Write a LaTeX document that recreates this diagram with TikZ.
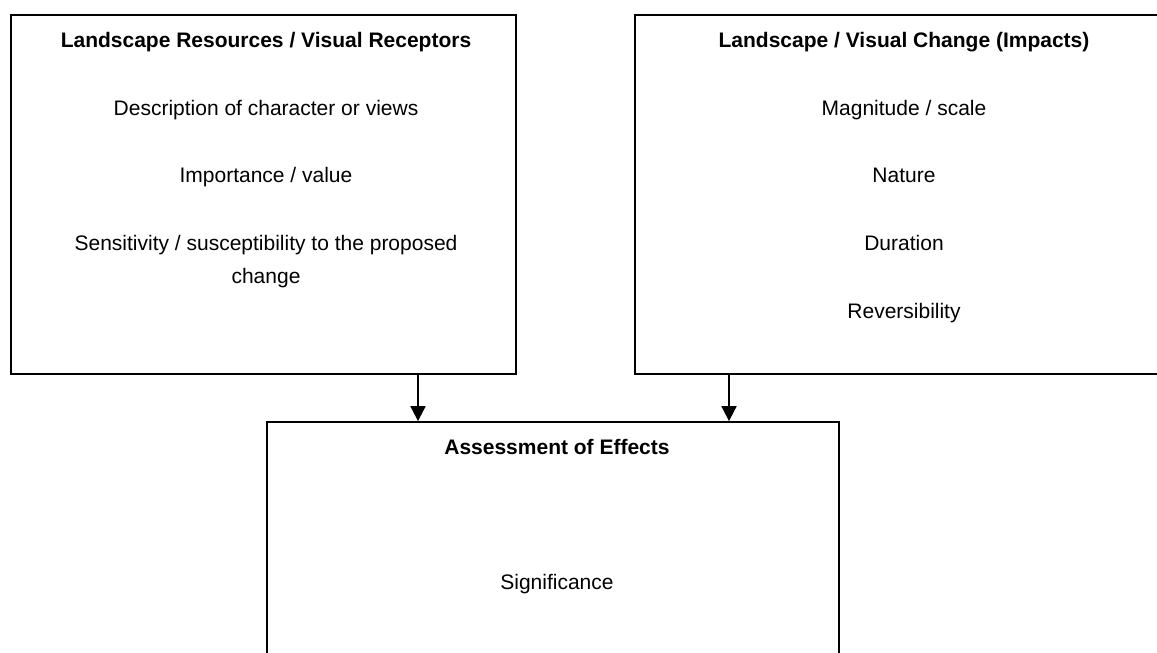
\documentclass[tikz,border=0pt]{standalone}
\usepackage{fontspec}
\setmainfont{Liberation Sans}
\usetikzlibrary{arrows.meta,positioning,calc}

\tikzset{
  box/.style={draw, line width=1.8pt, rectangle, inner sep=0pt},
  item/.style={font=\fontsize{21}{33.8}\selectfont, align=center, inner sep=0pt, anchor=base},
  head/.style={item, font=\fontsize{21}{33.8}\selectfont\bfseries},
  flow/.style={line width=1.8pt, -{Triangle[length=15pt,width=15pt]}}
}

\begin{document}
\begin{tikzpicture}[x=1pt,y=-1pt]
        \useasboundingbox (0,0) rectangle (1157,653);
        \clip (0,0) rectangle (1157,653);
        % the three boxes
        \node[box, minimum width=505pt, minimum height=359pt] (resources) at (263.5,194.5) {};
        \node[box, minimum width=540pt, minimum height=359pt] (change) at (905,194.5) {};
        \node[box, minimum width=572pt, minimum height=270pt] (effects) at (553,557) {};
        % texts, left
        \node[head] (reshead) at (266,47) {Landscape Resources / Visual Receptors};
        \node[item] (desc) at (266,115) {Description of character or views};
        \node[item] (value) at (266,182) {Importance / value};
        \node[item, anchor=north] (sens) at (266,234.7) {Sensitivity / susceptibility to the proposed\\change};
        % texts, right
        \node[head] (chhead) at (904,47) {Landscape / Visual Change (Impacts)};
        \node[item] (magn) at (904,115) {Magnitude / scale};
        \node[item] (nature) at (904,182) {Nature};
        \node[item] (durat) at (904,250) {Duration};
        \node[item] (revers) at (904,318) {Reversibility};
        % texts, bottom
        \node[head] (effhead) at (557,454) {Assessment of Effects};
        \node[item] (signif) at (557,589) {Significance};
        % arrows
        \coordinate (leftin) at (418,0);
        \coordinate (rightin) at (729,0);
        \draw[flow] (resources.south -| leftin) -- (effects.north -| leftin);
        \draw[flow] (change.south -| rightin) -- (effects.north -| rightin);
\end{tikzpicture}
\end{document}
